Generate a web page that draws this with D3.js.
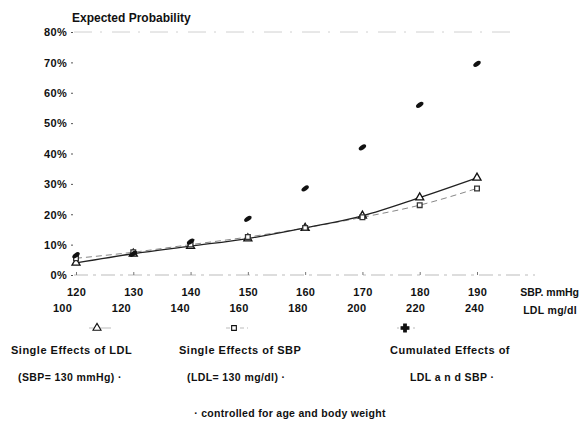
<!DOCTYPE html>
<html>
<head>
<meta charset="utf-8">
<script src="https://cdn.jsdelivr.net/npm/d3@7"></script>
<style>
    body { margin: 0; background: #fff; }
    text { font-family: "Liberation Sans", Arial, sans-serif; font-weight: bold; fill: #111; }
</style>
</head>
<body>
<div id="chart"></div>
<script>
var sbpTicks = [120, 130, 140, 150, 160, 170, 180, 190];
var ldlTicks = [100, 120, 140, 160, 180, 200, 220, 240];
var yTicks = [0, 10, 20, 30, 40, 50, 60, 70, 80];

// expected probability (%) at each SBP / LDL step
var ldlSingle = [4, 7, 9.5, 12, 15.5, 19.5, 25.5, 32];
var sbpSingle = [5.5, 7.5, 10, 12.5, 15.5, 19, 23, 28.5];
var cumulated = [6.5, 7, 11, 18.5, 28.5, 42, 56, 69.5];

var svg = d3.select("#chart")
    .append("svg")
    .attr("width", 582)
    .attr("height", 423);

var x = d3.scaleLinear().domain([120, 190]).range([76, 477]);
var xLdl = d3.scaleLinear().domain([100, 240]).range([62, 474]);
var y = d3.scaleLinear().domain([0, 80]).range([275, 32]);

// y axis
var yAxis = d3.axisLeft(y)
    .tickValues(yTicks)
    .tickSize(2)
    .tickPadding(4)
    .tickFormat(function (d) { return d + "%"; });

var gy = svg.append("g")
    .attr("transform", "translate(73,0)")
    .call(yAxis);
gy.select(".domain").remove();
gy.selectAll(".tick line").attr("stroke", "#555");
gy.selectAll(".tick text")
    .style("font-size", "11px")
    .style("letter-spacing", "0.3px")
    .attr("dy", "0.35em");

// frame lines at 0% and 80%
svg.append("line")
    .attr("x1", 74).attr("x2", 535)
    .attr("y1", y(0)).attr("y2", y(0))
    .attr("stroke", "#aaa")
    .attr("stroke-width", 0.8)
    .attr("stroke-dasharray", "14,5,3,5");

svg.append("line")
    .attr("x1", 74).attr("x2", 510)
    .attr("y1", y(80)).attr("y2", y(80))
    .attr("stroke", "#c4c4c4")
    .attr("stroke-width", 0.8)
    .attr("stroke-dasharray", "18,8,2,10");

// x axis, SBP row
var xAxis = d3.axisBottom(x)
    .tickValues(sbpTicks)
    .tickSize(3)
    .tickPadding(10);

var gx = svg.append("g")
    .attr("transform", "translate(0," + y(0) + ")")
    .call(xAxis);
gx.select(".domain").remove();
gx.selectAll(".tick line").attr("stroke", "#777").attr("transform", "translate(0,-3)");
gx.selectAll(".tick text").style("font-size", "11px").style("letter-spacing", "0.3px");

// x axis, LDL row
var ldlAxis = d3.axisBottom(xLdl)
    .tickValues(ldlTicks)
    .tickSize(0)
    .tickPadding(0);

var gl = svg.append("g")
    .attr("transform", "translate(0,304)")
    .call(ldlAxis);
gl.select(".domain").remove();
gl.selectAll(".tick text").style("font-size", "11px").style("letter-spacing", "0.3px");

svg.append("text")
    .attr("x", 579).attr("y", 296)
    .attr("text-anchor", "end")
    .style("font-size", "10.5px")
    .text("SBP. mmHg");

svg.append("text")
    .attr("x", 577).attr("y", 314)
    .attr("text-anchor", "end")
    .style("font-size", "10.5px")
    .style("letter-spacing", "0.3px")
    .text("LDL mg/dl");

svg.append("text")
    .attr("x", 72).attr("y", 22)
    .style("font-size", "12px")
    .text("Expected Probability");

// lines
var line = d3.line()
    .x(function (d, i) { return x(sbpTicks[i]); })
    .y(function (d) { return y(d); })
    .curve(d3.curveMonotoneX);

svg.append("path")
    .datum(sbpSingle)
    .attr("d", line)
    .attr("fill", "none")
    .attr("stroke", "#888")
    .attr("stroke-width", 1)
    .attr("stroke-dasharray", "6,4");

svg.append("path")
    .datum(ldlSingle)
    .attr("d", line)
    .attr("fill", "none")
    .attr("stroke", "#222")
    .attr("stroke-width", 1.3);

// markers
var triangle = d3.symbol().type(d3.symbolTriangle).size(28);
var square = d3.symbol().type(d3.symbolSquare).size(22);
var cross = d3.symbol().type(d3.symbolCross).size(34);

svg.selectAll(".m-ldl")
    .data(ldlSingle)
    .enter().append("path")
    .attr("class", "m-ldl")
    .attr("d", triangle)
    .attr("transform", function (d, i) { return "translate(" + x(sbpTicks[i]) + "," + y(d) + ")"; })
    .attr("fill", "#fff")
    .attr("stroke", "#111")
    .attr("stroke-width", 1.3);

svg.selectAll(".m-sbp")
    .data(sbpSingle)
    .enter().append("path")
    .attr("class", "m-sbp")
    .attr("d", square)
    .attr("transform", function (d, i) { return "translate(" + x(sbpTicks[i]) + "," + y(d) + ")"; })
    .attr("fill", "#fff")
    .attr("stroke", "#333")
    .attr("stroke-width", 1.3);

svg.selectAll(".m-cum")
    .data(cumulated)
    .enter().append("ellipse")
    .attr("class", "m-cum")
    .attr("rx", 4.2)
    .attr("ry", 2.2)
    .attr("transform", function (d, i) { return "translate(" + x(sbpTicks[i]) + "," + y(d) + ") rotate(-35)"; })
    .attr("fill", "#111");

// legend
var legend = [
    { sym: triangle, fill: "#fff", dash: null, x: 97, tx: 11, l1: "Single Effects of LDL", l2: "(SBP= 130 mmHg) ·", t2x: 18 },
    { sym: square, fill: "#fff", dash: "4,3", x: 234, tx: 179, l1: "Single Effects of SBP", l2: "(LDL= 130 mg/dl) ·", t2x: 187 },
    { sym: cross, fill: "#111", dash: "2,6", x: 405, tx: 390, l1: "Cumulated Effects of", l2: "LDL a n d SBP ·", t2x: 410 }
];

var lg = svg.selectAll(".legend")
    .data(legend)
    .enter().append("g")
    .attr("class", "legend");

lg.append("line")
    .attr("x1", function (d) { return d.x - 8; })
    .attr("x2", function (d) { return d.x + 14; })
    .attr("y1", 328).attr("y2", 328)
    .attr("stroke", "#aaa")
    .attr("stroke-width", 0.8)
    .attr("stroke-dasharray", function (d) { return d.dash; });

lg.append("path")
    .attr("d", function (d) { return d.sym(); })
    .attr("transform", function (d) { return "translate(" + d.x + ",328)"; })
    .attr("fill", function (d) { return d.fill; })
    .attr("stroke", "#111")
    .attr("stroke-width", 1.1);

lg.append("text")
    .attr("x", function (d) { return d.tx; })
    .attr("y", 354)
    .style("font-size", "11px")
    .style("letter-spacing", "0.5px")
    .text(function (d) { return d.l1; });

lg.append("text")
    .attr("x", function (d) { return d.t2x; })
    .attr("y", 381)
    .style("font-size", "10.5px")
    .style("letter-spacing", "0.4px")
    .text(function (d) { return d.l2; });

svg.append("text")
    .attr("x", 290).attr("y", 417)
    .attr("text-anchor", "middle")
    .style("font-size", "10.5px")
    .style("letter-spacing", "0.3px")
    .text("· controlled for age and body weight");
</script>
</body>
</html>
